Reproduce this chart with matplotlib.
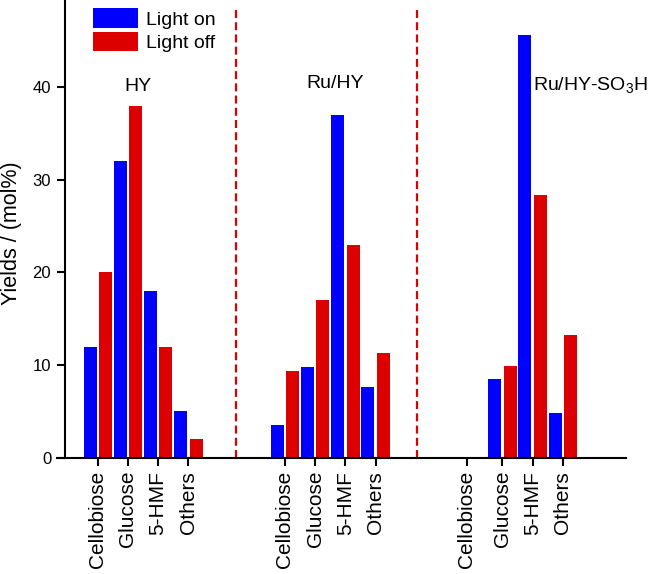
import numpy as np
import matplotlib
matplotlib.use('Agg')
import matplotlib.pyplot as plt

plt.rcParams['font.family'] = ['Liberation Sans', 'DejaVu Sans']
plt.rcParams['mathtext.default'] = 'regular'

# data
catalysts = ['HY', 'Ru/HY', 'Ru/HY-SO$_3$H']
products = ['Cellobiose', 'Glucose', '5-HMF', 'Others']
light_on = [[12, 32, 18, 5],
            [3.5, 9.8, 37, 7.6],
            [0, 8.5, 45.6, 4.8]]
light_off = [[20, 38, 12, 2],
             [9.4, 17, 23, 11.3],
             [0, 9.9, 28.3, 13.2]]

blue = '#0000ff'
red = '#dd0000'

# group layout
group_start = [1.0, 7.2, 13.4]
pos = np.concatenate([s + np.arange(len(products)) for s in group_start])
tick_pos = pos.copy()
tick_pos[8] -= 0.18  # empty cellobiose tick sits a bit left in the original

on = np.concatenate(light_on)
off = np.concatenate(light_off)

fig = plt.figure(figsize=(6.52, 5.74), dpi=100)
ax = fig.add_axes([0.087, 0.2026, 0.873, 0.7974])

w = 0.43
b1 = ax.bar(pos - 0.255, on, width=w, color=blue, label='Light on')
b2 = ax.bar(pos + 0.255, off, width=w, color=red, label='Light off')

ax.set_xlim(-0.358, 18.49)
ax.set_ylim(0, 49.4)

# dashed separators between catalysts
for xs in [5.58, 11.56]:
    ax.axvline(xs, ymin=0, ymax=48.3 / 49.4, color=red, lw=1.6,
               dashes=(3.6, 1.9))

# catalyst names
ax.text(2.33, 39.6, catalysts[0], ha='center', va='baseline', fontsize=14)
ax.text(8.86, 39.9, catalysts[1], ha='center', va='baseline', fontsize=14)
ax.text(15.41, 39.7, catalysts[2], ha='left', va='baseline', fontsize=14)

# axes styling
for side in ['top', 'right']:
    ax.spines[side].set_visible(False)
ax.spines['left'].set_position(('data', -0.083))
ax.spines['left'].set_linewidth(1.5)
ax.spines['bottom'].set_linewidth(1.5)

ax.set_yticks([0, 10, 20, 30, 40])
ax.set_xticks(tick_pos)
ax.set_xticklabels(products * len(catalysts), rotation=90, fontsize=15)
ax.tick_params(axis='x', direction='out', length=6, width=1.5, pad=3.5)
ax.tick_params(axis='y', direction='out', length=6, width=1.5, pad=4,
               labelsize=12)

ax.set_ylabel('Yields / (mol%)', fontsize=15.5)
ax.yaxis.set_label_coords(-0.061, 0.49)

ax.legend(handles=[b1, b2], loc='upper left',
          bbox_to_anchor=(92.7 / 652, 1 - 8.3 / 574),
          bbox_transform=fig.transFigure, frameon=False, fontsize=14,
          handlelength=2.35, handleheight=1.18, handletextpad=0.38,
          labelspacing=0.15, borderpad=0, borderaxespad=0)

fig.savefig('out.png', dpi=100)
plt.close(fig)
